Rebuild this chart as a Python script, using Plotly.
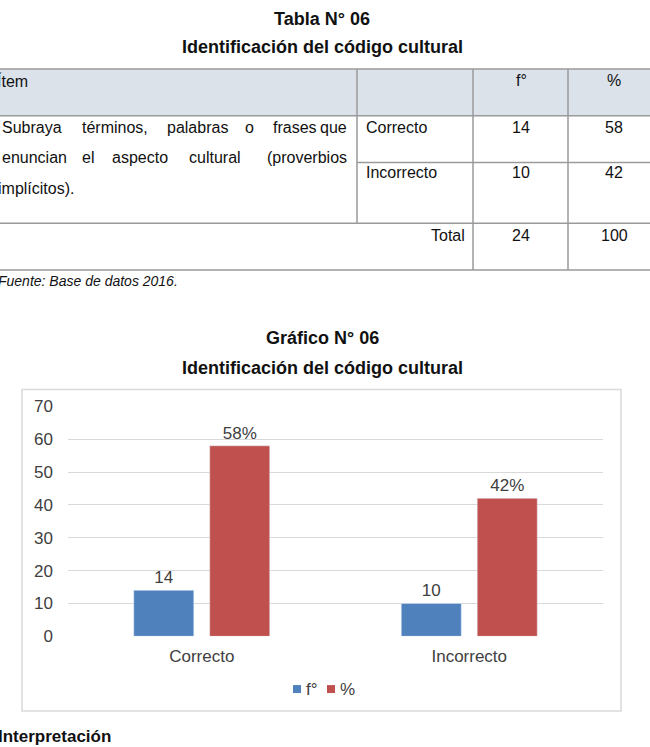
import plotly.graph_objects as go

# ---------------- data ----------------
categories = ["Correcto", "Incorrecto"]
freq = [14, 10]
pct = [58, 42]
total_label = "Total"
total_freq = 24
total_pct = 100
y_ticks = [0, 10, 20, 30, 40, 50, 60, 70]
series_names = ["f°", "%"]
table_title = "Tabla N° 06"
chart_title = "Gráfico N° 06"
subtitle = "Identificación del código cultural"
item_lines = [
    ["Subraya", "términos,", "palabras", "o", "frases", "que"],
    ["enuncian", "el", "aspecto", "cultural", "(proverbios"],
    ["implícitos)."],
]
source_note = "Fuente: Base de datos 2016."
next_heading = "Interpretación"

# ---------------- helpers ----------------
# Positions are given in final-picture pixels. The page's vertical 8px body
# margins end up in the photo (page height 763 squeezed to 747), so vertical
# positions are mapped back into figure pixels.
W, H = 650, 747
SY = (H + 16) / H

def X(px):
    return px / W

def Y(py):
    return 1 - (py * SY - 8) / H

BLUE = "#4F81BD"
RED = "#C0504D"
GRID = "#d9d9d9"
TXT = "#404040"
BORDER = "#9a9a9a"
HEAD_FILL = "#dbe2ea"
SANS = "Liberation Sans, Arial, sans-serif"

fig = go.Figure()
fig.add_trace(go.Bar(
    x=categories, y=freq, name=series_names[0], marker_color=BLUE,
    text=[str(v) for v in freq], textposition="outside", cliponaxis=False,
    textfont=dict(family=SANS, size=17, color=TXT), showlegend=False,
))
fig.add_trace(go.Bar(
    x=categories, y=pct, name=series_names[1], marker_color=RED,
    text=[f"{v}%" for v in pct], textposition="outside", cliponaxis=False,
    textfont=dict(family=SANS, size=17, color=TXT), showlegend=False,
))

shapes = []
annotations = []

def line(x0, y0, x1, y1, color=BORDER, width=1.5):
    shapes.append(dict(type="line", xref="paper", yref="paper",
                       x0=X(x0), y0=Y(y0), x1=X(x1), y1=Y(y1),
                       line=dict(color=color, width=width), layer="above"))

def text(t, x, y, anchor="left", size=16, bold=False, italic=False, family=SANS, color="#111"):
    s = t
    if bold:
        s = f"<b>{s}</b>"
    if italic:
        s = f"<i>{s}</i>"
    annotations.append(dict(text=s, x=X(x), y=Y(y), xref="paper", yref="paper",
                            xanchor=anchor, yanchor="middle", showarrow=False,
                            font=dict(family=family, size=size, color=color)))

# ---------------- table ----------------
text(table_title, 322, 18, anchor="center", size=18, bold=True)
text(subtitle, 322, 46, anchor="center", size=18, bold=True)

shapes.append(dict(type="rect", xref="paper", yref="paper",
                   x0=X(-2), y0=Y(115), x1=X(652), y1=Y(68),
                   fillcolor=HEAD_FILL, line=dict(width=0), layer="below"))
line(-2, 68, 652, 68)
line(-2, 115, 652, 115)
line(357, 162, 652, 162)
line(-2, 223, 652, 223)
line(-2, 270, 652, 270)
line(357, 68, 357, 223)
line(473, 68, 473, 270)
line(568, 68, 568, 270)

text("Ítem", -5, 80)
text(series_names[0], 521, 80, anchor="center")
text(series_names[1], 614, 80, anchor="center")

# justified item text: first word left, last word right, others centred
word_centers = [
    [115, 197, 249, 295],
    [88, 140, 215],
]
line_y = [127, 157, 188]
for i, (words, yy) in enumerate(zip(item_lines, line_y)):
    if len(words) == 1:
        text(words[0], -4, yy)
        continue
    text(words[0], 0, yy)
    for w, cx in zip(words[1:-1], word_centers[i]):
        text(w, cx, yy, anchor="center")
    text(words[-1], 349, yy, anchor="right")

row_y = [127, 172]
for cat, f, p, yy in zip(categories, freq, pct, row_y):
    text(cat, 364, yy)
    text(str(f), 521, yy, anchor="center")
    text(str(p), 614, yy, anchor="center")
text(total_label, 467, 235, anchor="right")
text(str(total_freq), 521, 235, anchor="center")
text(str(total_pct), 614, 235, anchor="center")
text(source_note, -4, 281, size=14, italic=True)

# ---------------- chart ----------------
text(chart_title, 322, 338, anchor="center", size=18, bold=True)
text(subtitle, 322, 368, anchor="center", size=18, bold=True)

shapes.append(dict(type="rect", xref="paper", yref="paper",
                   x0=X(22), y0=Y(713), x1=X(621), y1=Y(390),
                   line=dict(color=GRID, width=1.5), fillcolor="rgba(0,0,0,0)", layer="below"))

# legend drawn as swatches + text
legend_items = [(series_names[0], BLUE, 293), (series_names[1], RED, 327)]
for name, col, lx in legend_items:
    shapes.append(dict(type="rect", xref="paper", yref="paper",
                       x0=X(lx), y0=Y(695), x1=X(lx + 8), y1=Y(687),
                       fillcolor=col, line=dict(width=0)))
    text(name, lx + 11, 691, size=17, color=TXT)

text(next_heading, -4, 739, size=17, bold=True)

fig.update_layout(
    width=W, height=H,
    margin=dict(l=0, r=0, t=0, b=0),
    paper_bgcolor="white", plot_bgcolor="white",
    barmode="group", bargap=0.432, bargroupgap=0.21,
    shapes=shapes, annotations=annotations,
    showlegend=False,
    xaxis=dict(domain=[X(68), X(603)], showgrid=False, zeroline=False, showline=False,
               ticks="", tickfont=dict(family=SANS, size=17, color=TXT),
               ticklabelstandoff=8, fixedrange=True),
    yaxis=dict(domain=[Y(638), Y(407)], range=[0, 70], tickvals=y_ticks,
               showgrid=True, gridcolor=GRID, gridwidth=1, zeroline=False,
               showline=False, ticks="", ticklabelstandoff=14,
               tickfont=dict(family=SANS, size=17, color=TXT), fixedrange=True),
)

fig.write_html("out.html")
